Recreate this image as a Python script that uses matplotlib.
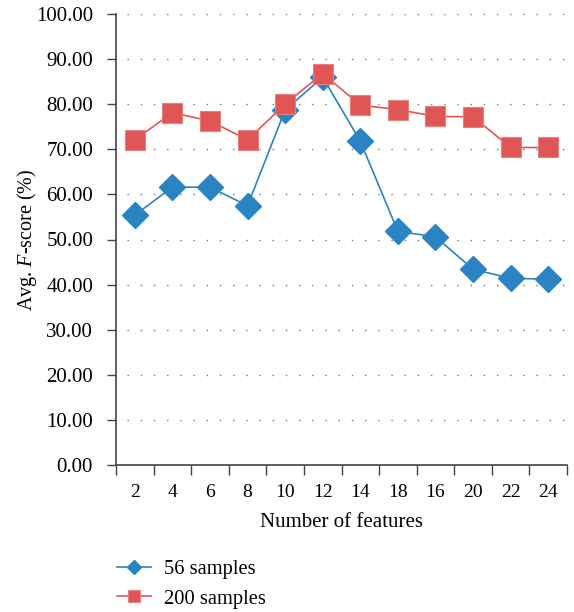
import matplotlib
matplotlib.use("Agg")
import matplotlib.pyplot as plt
import numpy as np

# Feature counts in the order they were evaluated
features = ["2", "4", "6", "8", "10", "12", "14", "18", "16", "20", "22", "24"]
score_56 = [55.4, 61.6, 61.6, 57.5, 78.7, 86.0, 71.8, 51.8, 50.6, 43.4, 41.4, 41.2]
score_200 = [72.1, 78.1, 76.3, 72.1, 80.0, 86.8, 79.8, 78.8, 77.3, 77.2, 70.4, 70.4]
y_ticks = [0, 10, 20, 30, 40, 50, 60, 70, 80, 90, 100]

plt.rcParams["font.family"] = ["Liberation Serif", "DejaVu Serif"]
plt.rcParams["mathtext.fontset"] = "custom"
plt.rcParams["mathtext.it"] = "Liberation Serif:italic"
plt.rcParams["mathtext.rm"] = "Liberation Serif"

blue = "#2a84c4"
red = "#e05555"

fig = plt.figure(figsize=(5.74, 6.12), dpi=100)
ax = fig.add_axes([116 / 574, 1 - 465 / 612, (567 - 116) / 574, (465 - 14) / 612])

x = np.arange(len(features))
l1, = ax.plot(x, score_56, color=blue, lw=1.2, marker="D", ms=13.5,
              mfc=blue, mec=blue, zorder=3, label="56 samples")
l2, = ax.plot(x, score_200, color=red, lw=1.2, marker="s", ms=15,
              mfc=red, mec="#e88080", mew=0.8, zorder=4, label="200 samples")

ax.set_xlim(-0.5, len(features) - 0.5)
ax.set_ylim(0, 100)

# Tick marks sit on category boundaries, labels at category centres
ax.set_xticks(np.arange(-0.5, len(features), 1.0))
ax.set_xticklabels([])
ax.set_xticks(x, minor=True)
ax.set_xticklabels(features, minor=True)
ax.tick_params(axis="x", which="major", direction="out", length=7, width=1, color="#444444")
ax.tick_params(axis="x", which="minor", length=0, pad=14, labelsize=14)

ax.set_yticks(y_ticks)
ax.set_yticklabels([f"{v:.2f}" for v in y_ticks])
ax.tick_params(axis="y", direction="out", length=6.5, width=1, color="#444444", labelsize=15, pad=10)

for s in ("top", "right"):
    ax.spines[s].set_visible(False)
for s in ("left", "bottom"):
    ax.spines[s].set_color("#444444")
    ax.spines[s].set_linewidth(1.2)

# Dotted horizontal guides
for v in y_ticks[1:]:
    ax.plot([-0.2, len(features) - 0.5], [v, v], color="#777777", lw=1.0,
            linestyle=(0, (1, 8.5)), zorder=1)

ax.set_xlabel("Number of features", fontsize=15, labelpad=8)
ax.set_ylabel("Avg. $F$-score (%)", fontsize=14.5, labelpad=-2.5)

fig.legend(handles=[l1, l2], loc="upper left", bbox_to_anchor=(98 / 574, 1 - 541 / 612),
           frameon=False, fontsize=14.8, handlelength=1.7, handletextpad=0.6,
           labelspacing=0.5, markerscale=0.55)

fig.savefig("out.png", dpi=100)
